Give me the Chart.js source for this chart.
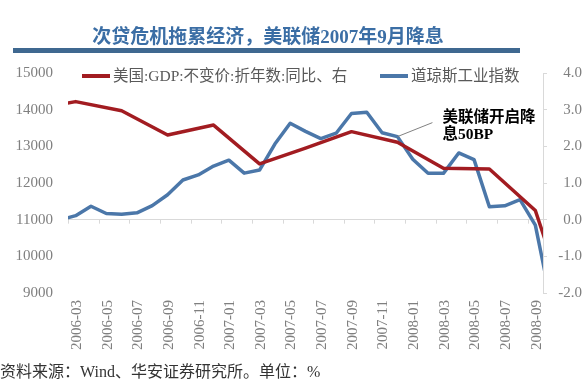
<!DOCTYPE html>
<html>
<head>
<meta charset="utf-8">
<script src="https://cdn.jsdelivr.net/npm/chart.js@4.4.1/dist/chart.umd.min.js"></script>
<style>
  html, body { margin: 0; padding: 0; background: #ffffff; }
  #wrap { position: relative; width: 582px; height: 380px; overflow: hidden; background: #fff; }
  #c { position: absolute; left: 0; top: 0; }
  .txt { position: absolute; white-space: nowrap; z-index: 2; }
  #title { left: 0; width: 536px; top: 21px; line-height: 24px; text-align: center;
           font: bold 19px "Liberation Serif", "Noto Sans CJK SC"; color: #3b6ea5; }
  #bar { position: absolute; left: 13px; top: 48px; width: 507px; height: 5px; background: #3f6890; z-index: 2; }
  #footer { left: 0; top: 358px; line-height: 18px; font: 16px "Liberation Serif", "Noto Sans CJK SC"; color: #333; }
  .leg { position: absolute; top: 63px; height: 18px; line-height: 18px; z-index: 2;
         font: 15.5px "Liberation Serif", "Noto Sans CJK SC"; color: #595959; white-space: nowrap; }
  .leg i { display: inline-block; width: 28px; height: 4px; vertical-align: middle; margin-right: 3px; position: relative; top: -1px; }
</style>
</head>
<body>
<div id="wrap">
  <canvas id="c" width="582" height="380"></canvas>
  <div id="title" class="txt">次贷危机拖累经济，美联储2007年9月降息</div>
  <div id="bar"></div>
  <div id="leg1" class="leg" style="left:82px"><i id="sw1"></i><span id="lt1"></span></div>
  <div id="leg2" class="leg" style="left:380px"><i id="sw2"></i><span id="lt2"></span></div>
  <div id="footer" class="txt">资料来源：Wind、华安证券研究所。单位：%</div>
</div>
<script>
// ---- Data ----
const months = ['2005-12','2006-01','2006-02','2006-03','2006-04','2006-05','2006-06','2006-07','2006-08','2006-09','2006-10','2006-11','2006-12',
  '2007-01','2007-02','2007-03','2007-04','2007-05','2007-06','2007-07','2007-08','2007-09','2007-10','2007-11','2007-12',
  '2008-01','2008-02','2008-03','2008-04','2008-05','2008-06','2008-07','2008-08','2008-09','2008-10','2008-11','2008-12'];

const tickLabels = ['2006-03','2006-05','2006-07','2006-09','2006-11','2007-01','2007-03','2007-05','2007-07','2007-09','2007-11','2008-01','2008-03','2008-05','2008-07','2008-09'];

// 道琼斯工业指数 (left axis), monthly
const dowValues = [null, null, 10993, 11109, 11367, 11168, 11150, 11186, 11381, 11679, 12081, 12221, 12463,
  12622, 12269, 12354, 13063, 13628, 13409, 13212, 13358, 13896, 13930, 13372, 13265,
  12650, 12266, 12263, 12820, 12638, 11350, 11378, 11544, 10851, 8800, null, null];

// 美国:GDP:不变价:折年数:同比 (right axis), quarterly
const gdpValues = [3.0, null, null, 3.22, null, null, 2.97, null, null, 2.31, null, null, 2.58,
  null, null, 1.52, null, null, 1.95, null, null, 2.40, null, null, 2.11,
  null, null, 1.40, null, null, 1.38, null, null, 0.25, null, null, -3.5];

const leftTicks = [9000, 10000, 11000, 12000, 13000, 14000, 15000];
const rightTicks = [-2, -1, 0, 1, 2, 3, 4];

const gdpLabel = '美国:GDP:不变价:折年数:同比、右';
const dowLabel = '道琼斯工业指数';
const noteLines = ['美联储开启降', '息50BP'];
const noteMonth = '2007-12';

const firstMonth = '2006-03', lastMonth = '2008-09';
const RED = '#a21c21', BLUE = '#4b77a9';

// ---- build ----
const base = months.indexOf(firstMonth);
const idx = m => months.indexOf(m) - base;
const toPoints = arr => arr.map((v, i) => (v === null ? null : { x: i - base, y: v })).filter(p => p);

document.getElementById('sw1').style.background = RED;
document.getElementById('sw2').style.background = BLUE;
document.getElementById('lt1').textContent = gdpLabel;
document.getElementById('lt2').textContent = dowLabel;

const axisFont = { family: '"Liberation Serif", "Noto Sans CJK SC"', size: 15 };
const GRAY_TXT = '#7f7f7f';
const AXIS_LINE = '#d9d9d9';

const extras = {
  id: 'extras',
  beforeDatasetsDraw(chart) {
    const { ctx, scales } = chart;
    const x = scales.x, y1 = scales.y1;
    const y0 = y1.getPixelForValue(0);
    ctx.save();
    ctx.strokeStyle = AXIS_LINE;
    ctx.lineWidth = 1;
    x.ticks.forEach(t => {
      const px = Math.round(x.getPixelForValue(t.value)) + 0.5;
      ctx.beginPath(); ctx.moveTo(px, y0); ctx.lineTo(px, y0 + 4); ctx.stroke();
    });
    ctx.restore();
  },
  afterDatasetsDraw(chart) {
    const { ctx, scales } = chart;
    const x = scales.x, y = scales.y;
    const sx = x.getPixelForValue(idx(noteMonth));
    const sy = y.getPixelForValue(dowValues[months.indexOf(noteMonth)]);
    ctx.save();
    ctx.strokeStyle = '#808080';
    ctx.lineWidth = 1;
    ctx.beginPath(); ctx.moveTo(sx, sy); ctx.lineTo(sx + 35, sy - 14); ctx.stroke();
    ctx.fillStyle = '#000';
    ctx.font = 'bold 15.5px "Liberation Serif", "Noto Sans CJK SC"';
    ctx.textBaseline = 'middle';
    ctx.textAlign = 'left';
    ctx.fillText(noteLines[0], sx + 45, sy - 19);
    ctx.fillText(noteLines[1], sx + 45, sy - 2);
    ctx.restore();
  }
};

new Chart(document.getElementById('c'), {
  type: 'line',
  data: {
    datasets: [
      { label: gdpLabel, data: toPoints(gdpValues), yAxisID: 'y1', borderColor: RED, backgroundColor: RED,
        borderWidth: 3.5, pointRadius: 0, tension: 0, borderJoinStyle: 'round', clip: 0 },
      { label: dowLabel, data: toPoints(dowValues), yAxisID: 'y', borderColor: BLUE, backgroundColor: BLUE,
        borderWidth: 3.5, pointRadius: 0, tension: 0, borderJoinStyle: 'round', clip: 0 }
    ]
  },
  options: {
    responsive: false,
    animation: false,
    events: [],
    layout: { padding: { top: 73, left: 0, right: 0, bottom: 0 } },
    plugins: { legend: { display: false }, tooltip: { enabled: false }, title: { display: false } },
    scales: {
      x: {
        type: 'linear',
        min: idx(firstMonth) - 0.5,
        max: idx(lastMonth) + 0.5,
        grid: { display: false, drawTicks: false },
        border: { display: false },
        afterBuildTicks(scale) { scale.ticks = tickLabels.map(m => ({ value: idx(m) - 0.5 })); },
        afterFit(scale) { scale.height = 87; },
        ticks: {
          autoSkip: false, minRotation: 90, maxRotation: 90, padding: 7, labelOffset: 9,
          color: GRAY_TXT, font: axisFont,
          callback: v => months[Math.round(v + 0.5) + base]
        }
      },
      y: {
        position: 'left',
        min: 9000, max: 15000,
        afterBuildTicks(scale) { scale.ticks = leftTicks.map(v => ({ value: v })); },
        afterFit(scale) { scale.width = 68; },
        grid: { display: false, drawTicks: false },
        border: { display: false },
        ticks: { padding: 15, color: GRAY_TXT, font: axisFont, callback: v => String(v) }
      },
      y1: {
        position: 'right',
        min: -2, max: 4,
        afterBuildTicks(scale) { scale.ticks = rightTicks.map(v => ({ value: v })); },
        afterFit(scale) { scale.width = 39; },
        grid: {
          drawOnChartArea: true, drawTicks: true, tickLength: 4, tickColor: AXIS_LINE,
          color: ctx => (ctx.tick && ctx.tick.value === 0 ? AXIS_LINE : 'rgba(0,0,0,0)'), lineWidth: 1
        },
        border: { display: true, color: AXIS_LINE, width: 1 },
        ticks: { padding: 3, crossAlign: 'far', color: GRAY_TXT, font: axisFont, callback: v => Number(v).toFixed(1) }
      }
    }
  },
  plugins: [extras]
});
</script>
</body>
</html>
